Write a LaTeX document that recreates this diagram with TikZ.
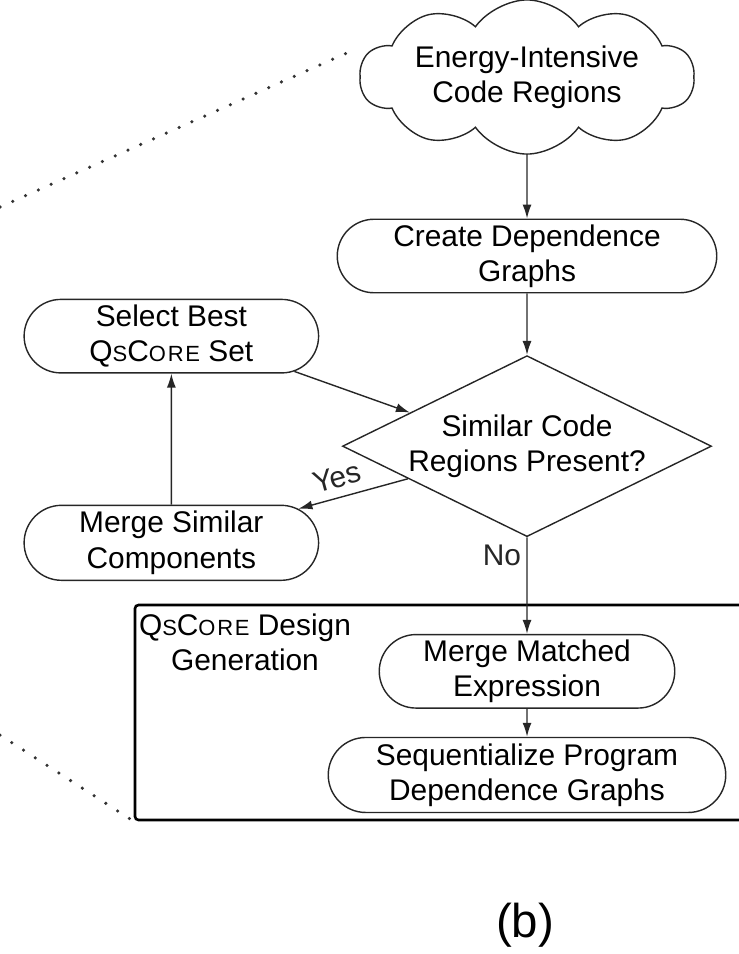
\documentclass[tikz,border=0pt]{standalone}
\usepackage{fontspec}
\setmainfont{Liberation Sans}
\newfontfamily\qsfont[LetterSpace=8]{Liberation Sans}
\usepackage{tikz}
\usetikzlibrary{positioning,arrows.meta,shapes.geometric,shapes.misc,shapes.symbols}
\newcommand{\qscore}{{\qsfont Q{\fontsize{12.5}{15}\selectfont S}C{\fontsize{12.5}{15}\selectfont ORE}}}

\begin{document}
\begin{tikzpicture}[font=\fontsize{17}{20}\selectfont, node distance=1.2cm,
  pill/.style={draw=black!85, line width=0.8pt, rounded rectangle, align=center, inner sep=1pt, minimum height=1.47cm},
  decide/.style={draw=black!85, line width=0.8pt, diamond, aspect=2.04, align=center, inner sep=0pt, minimum width=7.38cm, minimum height=3.62cm},
  puff/.style={draw=black!85, line width=0.8pt, cloud, cloud puffs=10, cloud puff arc=110, cloud ignores aspect, align=center, minimum width=6.4cm, minimum height=2.65cm},
  arr/.style={-{Latex[length=2.8mm,width=1.8mm]}, line width=0.8pt, black!85},
  zoomline/.style={line width=2pt, line cap=round, dash pattern=on 0pt off 0.28cm, black!80}]
\useasboundingbox (0,0) rectangle (14.78,-19.08);

\node[puff] (regions) at (10.54,-1.54) {Energy-Intensive\\Code Regions};
\node[pill, minimum width=7.66cm] (create) at (10.54,-5.12) {Create Dependence\\Graphs};
\node[decide, below=1.23cm of create] (similar) {Similar Code\\Regions Present?};
\node[pill, left=0.45cm of similar, yshift=2.2cm, minimum width=5.96cm] (select) {Select Best\\\qscore{} Set};
\node[pill, below=2.62cm of select, minimum width=5.96cm, minimum height=1.5cm] (mergesim) {Merge Similar\\Components};
\node[pill, below=1.93cm of similar, minimum width=5.98cm] (mergematch) {Merge Matched\\Expression};
\node[pill, below=0.56cm of mergematch, minimum width=8.02cm, minimum height=1.5cm] (seq) {Sequentialize Program\\Dependence Graphs};

% design generation frame
\node[draw, line width=1.5pt, rounded corners=2pt, minimum width=12.2cm, minimum height=4.3cm, inner sep=0pt] (genbox) at (8.8,-14.25) {};
\node[align=center, below right=0.2cm and 0.1cm of genbox.north west, inner sep=0pt] (genlabel) {\qscore{} Design\\Generation};

\draw[arr] (regions) -- (create);
\draw[arr] (create) -- (similar);
\draw[arr] (select.-16) -- (similar.164);
\draw[arr] (similar) -- node[pos=0.6, above, sloped, inner sep=5pt] {Yes} (mergesim.15);
\draw[arr] (mergesim) -- (select);
\draw[arr] (similar) -- node[pos=0.19, left, inner sep=3pt] {No} (mergematch);
\draw[arr] (mergematch) -- (seq);

% zoom lines
\coordinate (zoomtop) at (0,-4.14);
\coordinate (zoombot) at (0,-14.7);
\coordinate (cloudtip) at (7.16,-0.96);
\draw[zoomline] (zoomtop) -- (cloudtip);
\draw[zoomline] (zoombot) -- (genbox.south west);

\node[font=\fontsize{27}{30}\selectfont] (caption) at (10.5,-18.5) {(b)};
\end{tikzpicture}
\end{document}
